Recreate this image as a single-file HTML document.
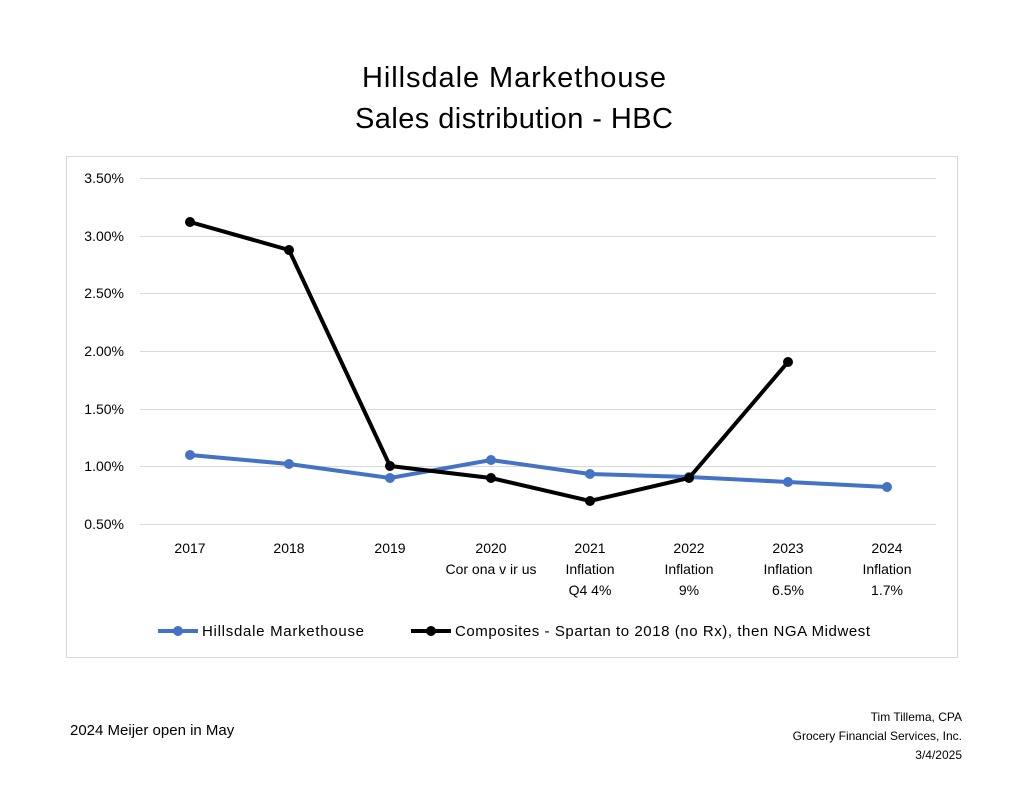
<!DOCTYPE html>
<html><head><style>
body{margin:0;background:#fff;}
svg text{font-family:"Liberation Sans",Arial,sans-serif;fill:#000;}
</style></head><body>
<svg width="1024" height="791" xmlns="http://www.w3.org/2000/svg">
<rect width="1024" height="791" fill="#fff"/>
<text x="514" y="87" font-size="29" text-anchor="middle" textLength="304">Hillsdale Markethouse</text>
<text x="514" y="128" font-size="29" text-anchor="middle" textLength="318">Sales distribution - HBC</text>
<rect x="66.5" y="156.5" width="891" height="501" fill="none" stroke="#d9d9d9"/>
<g stroke="#d9d9d9" stroke-width="1">
<line x1="140" x2="936" y1="178.5" y2="178.5"/>
<line x1="140" x2="936" y1="236.5" y2="236.5"/>
<line x1="140" x2="936" y1="293.5" y2="293.5"/>
<line x1="140" x2="936" y1="351.5" y2="351.5"/>
<line x1="140" x2="936" y1="409.5" y2="409.5"/>
<line x1="140" x2="936" y1="466.5" y2="466.5"/>
<line x1="140" x2="936" y1="524.5" y2="524.5"/>
</g>
<g font-size="14" text-anchor="end">
<text x="124" y="183">3.50%</text>
<text x="124" y="241">3.00%</text>
<text x="124" y="298">2.50%</text>
<text x="124" y="356">2.00%</text>
<text x="124" y="414">1.50%</text>
<text x="124" y="471">1.00%</text>
<text x="124" y="529">0.50%</text>
</g>
<g font-size="14" text-anchor="middle">
<text x="190" y="553">2017</text>
<text x="289" y="553">2018</text>
<text x="390" y="553">2019</text>
<text x="491" y="553">2020</text><text x="491" y="574">Cor ona v ir us</text>
<text x="590" y="553">2021</text><text x="590" y="574">Inflation</text><text x="590" y="595">Q4 4%</text>
<text x="689" y="553">2022</text><text x="689" y="574">Inflation</text><text x="689" y="595">9%</text>
<text x="788" y="553">2023</text><text x="788" y="574">Inflation</text><text x="788" y="595">6.5%</text>
<text x="887" y="553">2024</text><text x="887" y="574">Inflation</text><text x="887" y="595">1.7%</text>
</g>
<polyline fill="none" stroke="#4472c4" stroke-width="4" points="190,455 289,464 390,478 491,460 590,474 689,477 788,482 887,487"/>
<g fill="#4472c4">
<circle cx="190" cy="455" r="5"/><circle cx="289" cy="464" r="5"/><circle cx="390" cy="478" r="5"/><circle cx="491" cy="460" r="5"/><circle cx="590" cy="474" r="5"/><circle cx="689" cy="477" r="5"/><circle cx="788" cy="482" r="5"/><circle cx="887" cy="487" r="5"/>
</g>
<polyline fill="none" stroke="#000" stroke-width="4" points="190,222 289,250 390,466 491,478 590,501 689,478 788,362"/>
<g fill="#000">
<circle cx="190" cy="222" r="5"/><circle cx="289" cy="250" r="5"/><circle cx="390" cy="466" r="5"/><circle cx="491" cy="478" r="5"/><circle cx="590" cy="501" r="5"/><circle cx="689" cy="478" r="5"/><circle cx="788" cy="362" r="5"/>
</g>
<line x1="158" x2="198" y1="631" y2="631" stroke="#4472c4" stroke-width="4"/>
<circle cx="178" cy="631" r="5" fill="#4472c4"/>
<text x="202" y="636" font-size="15" textLength="162">Hillsdale Markethouse</text>
<line x1="411" x2="451" y1="631" y2="631" stroke="#000" stroke-width="4"/>
<circle cx="431" cy="631" r="5" fill="#000"/>
<text x="455" y="636" font-size="15" textLength="415">Composites - Spartan to 2018 (no Rx), then NGA Midwest</text>
<text x="70" y="735" font-size="15">2024 Meijer open in May</text>
<g font-size="12" text-anchor="end">
<text x="962" y="721">Tim Tillema, CPA</text>
<text x="962" y="740">Grocery Financial Services, Inc.</text>
<text x="962" y="759">3/4/2025</text>
</g>
</svg>
</body></html>
